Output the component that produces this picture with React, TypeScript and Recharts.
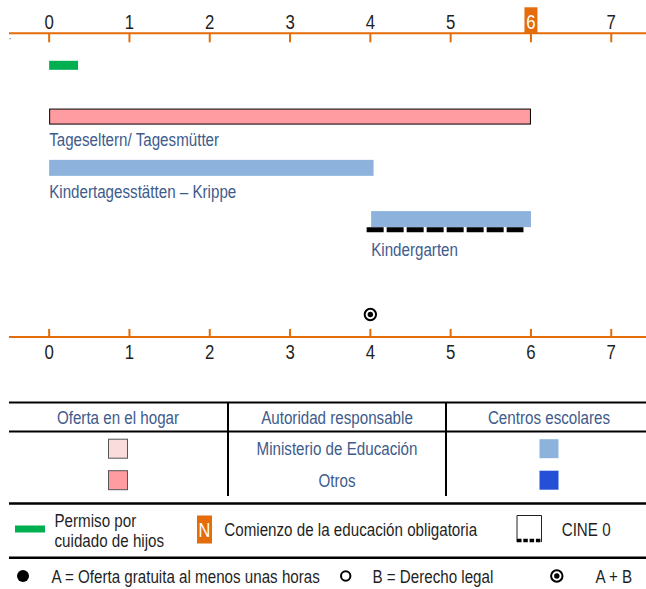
import React from 'react';
import { ComposedChart, Bar, Scatter, XAxis, YAxis } from 'recharts';

const FONT = "'Liberation Sans', Arial, sans-serif";
const ORANGE = '#e46c0a';
const TEXT_BLUE = '#3e5b8c';
const TEXT_DARK = '#1f1f1f';

// ages shown on both axes
const ageTicks = [0, 1, 2, 3, 4, 5, 6, 7];
const compulsoryAge = 6;

// one row per provision
const rowIds = ['leave', 'tagespflege', 'krippe', 'kindergarten'];
const rowLabels = ['', 'Tageseltern/ Tagesmütter', 'Kindertagesstätten – Krippe', 'Kindergarten'];
const rowStart = [0, 0, 0, 4.01];
const rowEnd = [0.36, 6, 4.04, 6];
const rowKind = ['leave', 'homeOther', 'schoolMinistry', 'schoolMinistry'];
const rowCine0 = [false, false, false, true];

// entitlement markers (A = free hours, B = legal right)
const markerAges = [4];
const markerTypes = ['A+B'];

// legend texts
const tableHeaders = ['Oferta en el hogar', 'Autoridad responsable', 'Centros escolares'];
const authorities = ['Ministerio de Educación', 'Otros'];

const rows = rowIds.map((id, i) => ({
    id,
    label: rowLabels[i],
    range: [rowStart[i], rowEnd[i]],
    kind: rowKind[i],
    cine0: rowCine0[i],
}));

const markers = markerAges.map((age, i) => ({ age, type: markerTypes[i], row: 'entitlement' }));

const COLORS: Record<string, string> = {
    leave: '#00b050',
    homeMinistry: '#fadcdc',
    homeOther: '#ff9ca1',
    schoolMinistry: '#8db3dc',
    schoolOther: '#2450d8',
};

// condensed text (no narrow font installed, so squeeze Liberation Sans)
const NText = ({ x, y, size = 18.5, fill = TEXT_DARK, anchor = 'start', children }: any) => (
    <text transform={`translate(${x},${y}) scale(0.82,1)`} fontSize={size} fill={fill}
        textAnchor={anchor} fontFamily={FONT}>
        {children}
    </text>
);

const RangeBar = (props: any) => {
    const { x, y, width, height, payload } = props;
    const cy = y + height / 2;
    const half = payload.kind === 'leave' ? 4.5 : payload.kind === 'homeOther' ? 7.5 : 8;
    const bottom = cy + half;
    let rect;
    if (payload.kind === 'homeOther') {
        rect = <rect x={x + 0.5} y={cy - half} width={width - 1} height={half * 2} fill={COLORS.homeOther} stroke="#000" strokeWidth={1} />;
    } else {
        rect = <rect x={x} y={cy - half} width={width} height={half * 2} fill={COLORS[payload.kind]} />;
    }
    return (
        <g>
            {rect}
            {payload.cine0 && (
                <line x1={x - 4.5} x2={x + width - 7.5} y1={bottom + 2.5} y2={bottom + 2.5}
                    stroke="#000" strokeWidth={5} strokeDasharray="17 3" />
            )}
            {payload.label && (
                <NText x={x} y={bottom + (payload.cine0 ? 28.5 : 22)} fill={TEXT_BLUE}>{payload.label}</NText>
            )}
        </g>
    );
};

const TopTick = ({ x, y, payload }: any) => {
    const hl = payload.value === compulsoryAge;
    return (
        <g>
            <line x1={x} x2={x} y1={y} y2={y + 9} stroke={ORANGE} strokeWidth={2} />
            {hl && <rect x={x - 6.5} y={y - 26} width={13} height={26} fill={ORANGE} />}
            <NText x={x} y={y - 4} size={20.5} anchor="middle" fill={hl ? '#fff' : TEXT_DARK}>{payload.value}</NText>
        </g>
    );
};

const BottomTick = ({ x, y, payload }: any) => (
    <g>
        <line x1={x} x2={x} y1={y - 8} y2={y} stroke={ORANGE} strokeWidth={2} />
        <NText x={x} y={y + 22} size={20.5} anchor="middle">{payload.value}</NText>
    </g>
);

const MarkerIcon = ({ cx, cy, type }: { cx: number; cy: number; type: string }) => {
    if (type === 'A') return <circle cx={cx} cy={cy} r={6} fill="#000" />;
    if (type === 'B') return <circle cx={cx} cy={cy} r={4.7} fill="#fff" stroke="#000" strokeWidth={2} />;
    return (
        <g>
            <circle cx={cx} cy={cy} r={5.7} fill="#fff" stroke="#000" strokeWidth={2} />
            <circle cx={cx} cy={cy} r={2.7} fill="#000" />
        </g>
    );
};

const MarkerShape = (props: any) => <MarkerIcon cx={props.cx} cy={props.cy} type={props.payload.type} />;

const Legend = () => {
    const colX = [118, 337, 549];
    return (
        <svg width={646} height={589} style={{ position: 'absolute', left: 0, top: 0 }}>
            {/* table */}
            <line x1={9} x2={646} y1={402.5} y2={402.5} stroke="#000" strokeWidth={2} />
            <line x1={9} x2={646} y1={431.5} y2={431.5} stroke="#000" strokeWidth={2} />
            <line x1={228} x2={228} y1={402} y2={496} stroke="#000" strokeWidth={2} />
            <line x1={446} x2={446} y1={402} y2={496} stroke="#000" strokeWidth={2} />
            {tableHeaders.map((h, i) => (
                <NText key={h} x={colX[i]} y={424.3} anchor="middle" fill={TEXT_BLUE}>{h}</NText>
            ))}
            {authorities.map((a, i) => {
                const cy = 448.7 + i * 31.5;
                const home = i === 0 ? COLORS.homeMinistry : COLORS.homeOther;
                const school = i === 0 ? COLORS.schoolMinistry : COLORS.schoolOther;
                return (
                    <g key={a}>
                        <rect x={colX[0] - 9.5} y={cy - 9.5} width={19} height={19} fill={home} stroke="#555" strokeWidth={1} />
                        <NText x={colX[1]} y={cy + 6.5} anchor="middle" fill={TEXT_BLUE}>{a}</NText>
                        <rect x={colX[2] - 9.5} y={cy - 9.5} width={19} height={19} fill={school} />
                    </g>
                );
            })}
            {/* symbols */}
            <line x1={9} x2={646} y1={503.5} y2={503.5} stroke="#000" strokeWidth={2.5} />
            <rect x={15} y={525.5} width={30} height={7} fill={COLORS.leave} />
            <NText x={54.5} y={526.7}>Permiso por</NText>
            <NText x={54.5} y={546.7}>cuidado de hijos</NText>
            <rect x={197} y={515.5} width={15} height={28} fill={ORANGE} />
            <NText x={204.5} y={536.5} size={20} anchor="middle" fill="#fff">N</NText>
            <NText x={224.3} y={536}>Comienzo de la educación obligatoria</NText>
            <path d="M517 542 V515.5 H541.5 V542" fill="none" stroke="#222" strokeWidth={1} />
            <line x1={517} x2={541.5} y1={540.5} y2={540.5} stroke="#000" strokeWidth={3.5} strokeDasharray="4.5 1.8" />
            <NText x={561.7} y={536}>CINE 0</NText>
            <line x1={9} x2={646} y1={557.7} y2={557.7} stroke="#000" strokeWidth={2.5} />
            <MarkerIcon cx={23} cy={576} type="A" />
            <NText x={51.4} y={582.7}>A = Oferta gratuita al menos unas horas</NText>
            <MarkerIcon cx={345.7} cy={576} type="B" />
            <NText x={372.4} y={582.7}>B = Derecho legal</NText>
            <MarkerIcon cx={556.8} cy={576} type="A+B" />
            <NText x={595.5} y={582.7}>A + B</NText>
            <text x={9} y={42} fontSize={6} fill="#666" fontFamily={FONT}>”</text>
        </svg>
    );
};

export default function App() {
    const axisLine = { stroke: ORANGE, strokeWidth: 2 };
    return (
        <div style={{ position: 'absolute', left: 0, top: 0, width: 646, height: 589, overflow: 'hidden', background: '#fff', fontFamily: FONT }}>
            <Legend />
            <div style={{ position: 'absolute', left: 0, top: 0 }}>
                <ComposedChart layout="vertical" width={652} height={270} data={rows}
                    margin={{ top: 32.3, right: 0.6, left: 9, bottom: 25.6 }}>
                    <XAxis type="number" orientation="top" domain={[-0.5, 7.5]} ticks={ageTicks}
                        height={1} tickSize={0} tickMargin={0} axisLine={axisLine} tick={<TopTick />} interval={0} />
                    <YAxis type="category" dataKey="id" hide padding={{ top: 6, bottom: 0 }} />
                    <Bar dataKey="range" barSize={16} shape={<RangeBar />} isAnimationActive={false} />
                </ComposedChart>
            </div>
            <div style={{ position: 'absolute', left: 0, top: 280 }}>
                <ComposedChart width={652} height={100} data={markers}
                    margin={{ top: 12, right: 0.6, left: 9, bottom: 42 }}>
                    <XAxis type="number" dataKey="age" orientation="bottom" domain={[-0.5, 7.5]} ticks={ageTicks}
                        height={1} tickSize={0} tickMargin={0} axisLine={axisLine} tick={<BottomTick />} interval={0} />
                    <YAxis type="category" dataKey="row" hide />
                    <Scatter dataKey="age" shape={<MarkerShape />} isAnimationActive={false} />
                </ComposedChart>
            </div>
        </div>
    );
}
